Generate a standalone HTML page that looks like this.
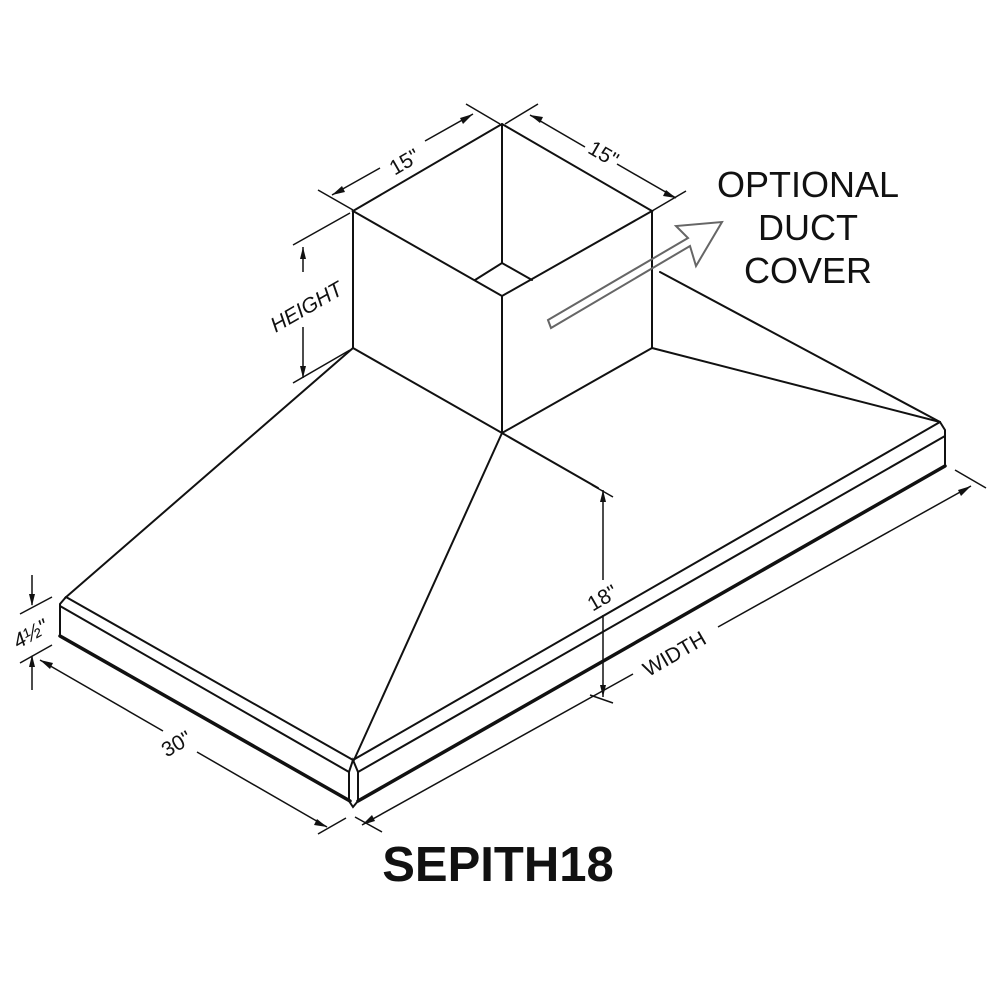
<!DOCTYPE html>
<html><head><style>body{margin:0;background:#fff}svg{display:block}</style></head><body>
<svg width="1000" height="1000" viewBox="0 0 1000 1000" xmlns="http://www.w3.org/2000/svg" font-family="Liberation Sans, sans-serif">
<g stroke="#111" stroke-width="2" fill="none" stroke-linecap="round">
<polygon points="353,211 502,124 652,211 502,296"/>
<line x1="502" y1="124" x2="502" y2="263"/>
<polyline points="475,280 502,263 532,280"/>
<line x1="353" y1="211" x2="353" y2="348"/>
<line x1="652" y1="211" x2="652" y2="348"/>
<line x1="502" y1="296" x2="502" y2="433"/>
<polyline points="353,348 502,433 652,348"/>
<line x1="353" y1="348" x2="65" y2="598"/>
<line x1="502" y1="433" x2="354" y2="760"/>
<line x1="502" y1="433" x2="598" y2="488"/>
<line x1="652" y1="348" x2="940" y2="422"/>
<line x1="660" y1="272" x2="940" y2="422"/>
<polyline points="66,597 60,604 60,636"/>
<line x1="66" y1="597" x2="353" y2="760"/>
<line x1="60" y1="606" x2="349" y2="772"/>
<line x1="60" y1="636" x2="350" y2="801" stroke-width="3.5"/>
<polyline points="349,772 353,760 358,772"/>
<line x1="349" y1="772" x2="349" y2="801"/>
<line x1="358" y1="772" x2="358" y2="801"/>
<polyline points="349,801 353,807 358,801"/>
<line x1="353" y1="760" x2="940" y2="422"/>
<line x1="358" y1="772" x2="945" y2="436"/>
<line x1="358" y1="801" x2="945" y2="466" stroke-width="3.5"/>
<polyline points="940,422 945,430 945,466"/>
</g>
<g stroke="#111" stroke-width="1.5" fill="none">
<line x1="318" y1="190" x2="353" y2="210"/>
<line x1="466" y1="104" x2="500" y2="124"/>
<line x1="332" y1="195" x2="380" y2="168"/><line x1="425" y1="141" x2="473" y2="114"/>
<line x1="505" y1="124" x2="538" y2="104"/>
<line x1="652" y1="211" x2="686" y2="191"/>
<line x1="530" y1="115" x2="585" y2="147"/><line x1="617" y1="164" x2="676" y2="198"/>
<line x1="293" y1="245" x2="350" y2="213"/>
<line x1="293" y1="383" x2="350" y2="350"/>
<line x1="303" y1="247" x2="303" y2="272"/><line x1="303" y1="327" x2="303" y2="378"/>
<line x1="20" y1="614" x2="52" y2="597"/>
<line x1="20" y1="663" x2="52" y2="645"/>
<line x1="32" y1="575" x2="32" y2="605"/><line x1="32" y1="656" x2="32" y2="690"/>
<line x1="40" y1="660" x2="163" y2="731"/><line x1="197" y1="752" x2="327" y2="827"/>
<line x1="318" y1="834" x2="346" y2="818"/>
<line x1="355" y1="817" x2="382" y2="832"/>
<line x1="955" y1="470" x2="986" y2="488"/>
<line x1="362" y1="825" x2="633" y2="674"/><line x1="718" y1="627" x2="971" y2="486"/>
<line x1="592" y1="485" x2="613" y2="497"/>
<line x1="590" y1="695" x2="613" y2="703"/>
<line x1="603" y1="490" x2="603" y2="580"/><line x1="603" y1="615" x2="603" y2="697"/>
</g>
<g fill="#111">
<polygon points="32,606 29,594 35,594"/><polygon points="32,655 29,667 35,667"/>
<polygon points="303,247 300,259 306,259"/><polygon points="303,378 300,366 306,366"/>
<polygon points="603,490 600,502 606,502"/><polygon points="603,697 600,685 606,685"/>
<polygon points="332,195 342,186 345,192"/><polygon points="473,114 460,118 463,124"/>
<polygon points="530,115 543,117 540,123"/><polygon points="676,198 663,196 666,190"/>
<polygon points="40,660 53,663 50,669"/><polygon points="327,827 314,825 317,819"/>
<polygon points="362,825 372,815 375,821"/><polygon points="971,486 961,496 958,490"/>
</g>
<g fill="none" stroke="#666" stroke-width="2">
<polygon points="548,320 688,238 676,226 722,222 696,266 690,246 551,328"/>
</g>
<g fill="#111" font-size="21">
<text transform="translate(408,168) rotate(-30)" text-anchor="middle">15"</text>
<text transform="translate(600,160) rotate(30)" text-anchor="middle">15"</text>
<text transform="translate(310,313) rotate(-30)" text-anchor="middle" font-style="italic">HEIGHT</text>
<text transform="translate(34,640) rotate(-30)" text-anchor="middle" font-style="italic">4½"</text>
<text transform="translate(180,750) rotate(-30)" text-anchor="middle">30"</text>
<text transform="translate(678,660) rotate(-30)" text-anchor="middle">WIDTH</text>
<text transform="translate(606,604) rotate(-30)" text-anchor="middle">18"</text>
</g>
<g fill="#111" font-size="36" text-anchor="middle">
<text x="808" y="197">OPTIONAL</text>
<text x="808" y="240">DUCT</text>
<text x="808" y="283">COVER</text>
</g>
<text x="498" y="881" font-size="49" font-weight="bold" text-anchor="middle" fill="#111">SEPITH18</text>
</svg>
</body></html>
